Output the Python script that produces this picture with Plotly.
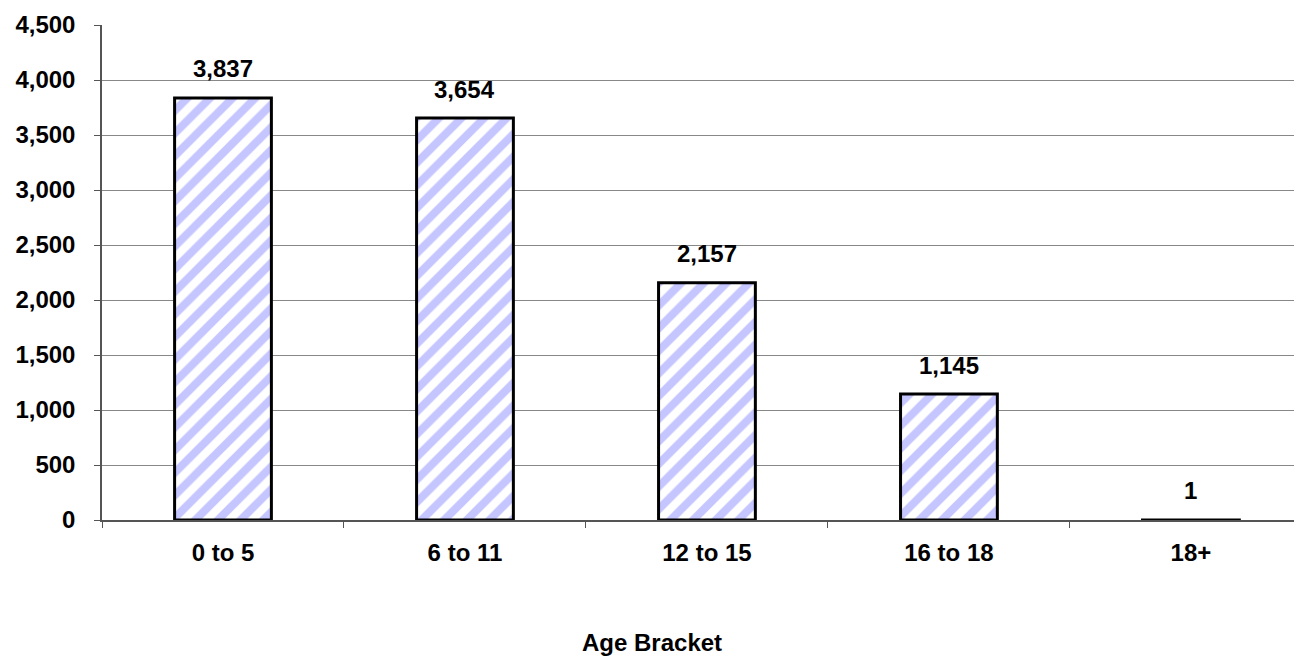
import plotly.graph_objects as go

categories = ["0 to 5", "6 to 11", "12 to 15", "16 to 18", "18+"]
values = [3837, 3654, 2157, 1145, 1]
labels = [f"{v:,}" for v in values]
ytick_vals = [0, 500, 1000, 1500, 2000, 2500, 3000, 3500, 4000, 4500]
x_title = "Age Bracket"

font_family = "Arial, Liberation Sans, sans-serif"
FS = 24

fig = go.Figure()
fig.add_trace(go.Bar(
    x=categories,
    y=values,
    width=0.4,
    marker=dict(
        color="white",
        line=dict(color="black", width=3),
        pattern=dict(shape="/", fgcolor="#8c8cff", bgcolor="white", size=16, solidity=0.5),
    ),
))

for c, v, t in zip(categories, values, labels):
    fig.add_annotation(
        x=c, y=v, text=f"<b>{t}</b>", showarrow=False,
        yanchor="middle", yshift=29,
        font=dict(family=font_family, size=FS, color="black"),
    )

fig.add_annotation(
    xref="paper", yref="paper", x=0.458, y=0, yshift=-122,
    xanchor="center", yanchor="middle", showarrow=False,
    text=f"<b>{x_title}</b>",
    font=dict(family=font_family, size=FS, color="black"),
)

fig.update_layout(
    width=1294,
    height=648,
    margin=dict(l=94, r=0, t=17, b=136),
    plot_bgcolor="white",
    paper_bgcolor="white",
    showlegend=False,
    font=dict(family=font_family, size=FS, color="black"),
)

fig.update_xaxes(
    range=[-0.5, 4.459],
    tickson="boundaries",
    ticks="outside",
    ticklen=6,
    tickcolor="#555555",
    showline=True,
    linecolor="#555555",
    linewidth=1.5,
    showgrid=False,
    ticklabelstandoff=10,
    tickfont=dict(family=font_family, size=FS, color="black", weight="bold"),
)

fig.update_yaxes(
    range=[0, 4500],
    tickvals=ytick_vals,
    tickformat=",",
    ticks="outside",
    ticklen=6,
    tickcolor="#555555",
    showline=True,
    linecolor="#555555",
    linewidth=1.5,
    showgrid=True,
    gridcolor="#888888",
    gridwidth=1,
    zeroline=False,
    ticklabelstandoff=14,
    tickfont=dict(family=font_family, size=FS, color="black", weight="bold"),
)

fig.write_html("out.html")
